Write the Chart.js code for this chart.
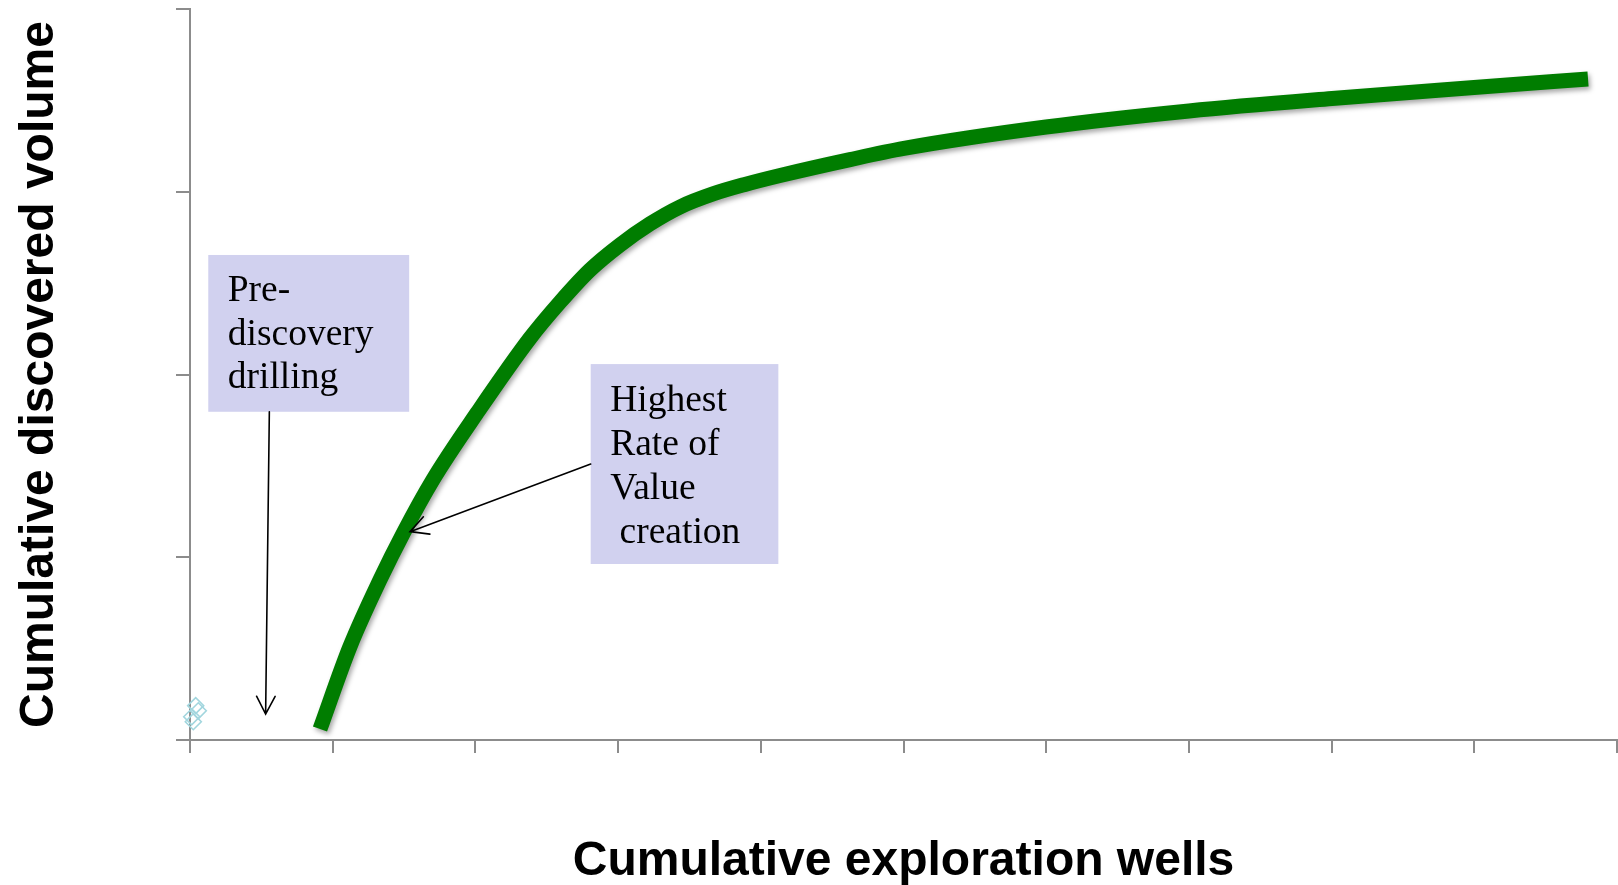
<!DOCTYPE html>
<html>
<head>
<meta charset="utf-8">
<script src="https://cdn.jsdelivr.net/npm/chart.js@4"></script>
<style>
  html, body { margin: 0; padding: 0; background: #ffffff; overflow: hidden; }
  #wrap { width: 1618px; height: 885px; }
</style>
</head>
<body>
<div id="wrap"><canvas id="c" width="1618" height="885"></canvas></div>
<script>
// ---- data ----
const wells  = [0.911, 1.121, 1.331, 1.500, 1.703, 2.011, 2.383, 2.593, 2.803, 3.013, 3.223, 3.434, 3.665, 3.889, 4.135, 4.625, 5.003, 5.999, 7.001, 8.003, 8.998, 9.797];
const volume = [0.060, 0.511, 0.876, 1.140, 1.425, 1.789, 2.199, 2.396, 2.572, 2.709, 2.824, 2.917, 2.988, 3.040, 3.089, 3.176, 3.237, 3.354, 3.442, 3.510, 3.570, 3.617];

const preWells  = [0.040, 0.058, 0.012, 0.023];
const preVolume = [0.188, 0.160, 0.127, 0.100];

const xTitle = 'Cumulative exploration wells';
const yTitle = 'Cumulative discovered volume';

const xMin = 0, xMax = 10, xStep = 1;
const yMin = 0, yMax = 4, yStep = 1;

// annotation boxes (data coordinates) and their text
const boxLabels1 = ['Pre-', 'discovery', 'drilling'];
const boxLabels2 = ['Highest', 'Rate of', 'Value', ' creation'];
const boxRect1 = [0.128, 2.654, 1.536, 1.796];   // x0, yTop, x1, yBottom
const boxRect2 = [2.808, 2.057, 4.123, 0.963];
const arrow1 = [0.556, 1.796, 0.530, 0.142];     // fromX, fromY, toX, toY
const arrow2 = [2.808, 1.510, 1.542, 1.140];

// ---- plugins ----
const lineShadow = {
  id: 'lineShadow',
  beforeDatasetDraw(chart, args) {
    if (args.index !== 0) return;
    const ctx = chart.ctx;
    ctx.save();
    ctx.shadowColor = 'rgba(0,0,0,0.35)';
    ctx.shadowBlur = 5;
    ctx.shadowOffsetX = 2;
    ctx.shadowOffsetY = 3;
  },
  afterDatasetDraw(chart, args) {
    if (args.index !== 0) return;
    chart.ctx.restore();
  }
};

const callouts = {
  id: 'callouts',
  afterDatasetsDraw(chart) {
    const ctx = chart.ctx;
    const xs = chart.scales.x, ys = chart.scales.y;
    const px = v => xs.getPixelForValue(v);
    const py = v => ys.getPixelForValue(v);

    function drawBox(rect, lines, lineGap) {
      const x0 = px(rect[0]), y0 = py(rect[1]), x1 = px(rect[2]), y1 = py(rect[3]);
      ctx.save();
      ctx.fillStyle = '#d1d1ef';
      ctx.fillRect(x0, y0, x1 - x0, y1 - y0);
      ctx.fillStyle = '#000000';
      ctx.font = '37.5px "Liberation Serif", "Times New Roman", serif';
      ctx.textBaseline = 'alphabetic';
      ctx.textAlign = 'left';
      lines.forEach((t, i) => ctx.fillText(t, x0 + 19.5, y0 + 46.5 + i * lineGap));
      ctx.restore();
    }

    function drawArrow(a) {
      const fx = px(a[0]), fy = py(a[1]), tx = px(a[2]), ty = py(a[3]);
      const ang = Math.atan2(ty - fy, tx - fx);
      const head = 20, spread = Math.PI / 6.5;
      ctx.save();
      ctx.strokeStyle = '#000000';
      ctx.lineWidth = 1.6;
      ctx.lineCap = 'round';
      ctx.beginPath();
      ctx.moveTo(fx, fy);
      ctx.lineTo(tx, ty);
      ctx.moveTo(tx - head * Math.cos(ang - spread), ty - head * Math.sin(ang - spread));
      ctx.lineTo(tx, ty);
      ctx.lineTo(tx - head * Math.cos(ang + spread), ty - head * Math.sin(ang + spread));
      ctx.stroke();
      ctx.restore();
    }

    drawBox(boxRect1, boxLabels1, 43.3);
    drawBox(boxRect2, boxLabels2, 44.3);
    drawArrow(arrow1);
    drawArrow(arrow2);
  }
};

// ---- chart ----
const axisGrey = '#8c8c8c';
const titleFont = { family: '"Liberation Sans", Arial, sans-serif', size: 48, weight: 'bold', lineHeight: 1 };

new Chart(document.getElementById('c'), {
  type: 'line',
  data: {
    datasets: [
      {
        label: 'Discovery curve',
        data: wells.map((w, i) => ({ x: w, y: volume[i] })),
        borderColor: '#007d00',
        borderWidth: 15,
        pointRadius: 0,
        fill: false,
        cubicInterpolationMode: 'monotone',
        borderCapStyle: 'butt',
        clip: false
      },
      {
        label: 'Pre-discovery wells',
        data: preWells.map((w, i) => ({ x: w, y: preVolume[i] })),
        showLine: false,
        pointStyle: 'rectRot',
        pointRadius: 8,
        pointBorderWidth: 1.6,
        pointBorderColor: '#a2d6de',
        pointBackgroundColor: 'rgba(0,0,0,0)',
        clip: false
      }
    ]
  },
  options: {
    responsive: false,
    animation: false,
    events: [],
    layout: { autoPadding: false, padding: { top: 9, right: 1, left: 0, bottom: 0 } },
    plugins: { legend: { display: false }, tooltip: { enabled: false } },
    scales: {
      x: {
        type: 'linear', min: xMin, max: xMax,
        ticks: { stepSize: xStep, display: false },
        grid: { drawOnChartArea: false, drawTicks: true, tickLength: 13, color: axisGrey, lineWidth: 2 },
        border: { display: true, color: axisGrey, width: 2 },
        title: { display: true, text: xTitle, color: '#000000', font: titleFont, padding: { top: 0, bottom: -1 } },
        afterFit(s) { s.height = 145; }
      },
      y: {
        type: 'linear', min: yMin, max: yMax,
        ticks: { stepSize: yStep, display: false },
        grid: { drawOnChartArea: false, drawTicks: true, tickLength: 14, color: axisGrey, lineWidth: 2 },
        border: { display: true, color: axisGrey, width: 2 },
        title: { display: true, text: yTitle, color: '#000000', font: titleFont, padding: { top: 16, bottom: 0 } },
        afterFit(s) { s.width = 190; }
      }
    }
  },
  plugins: [lineShadow, callouts]
});
</script>
</body>
</html>
